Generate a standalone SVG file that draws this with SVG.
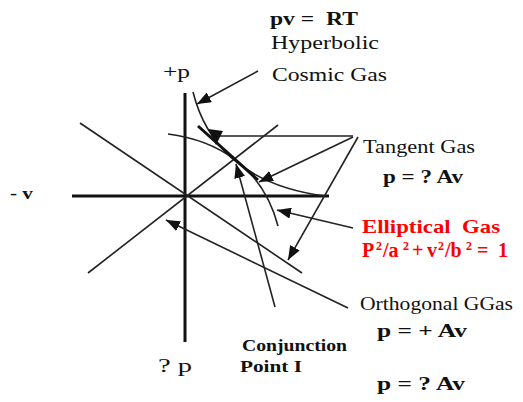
<svg xmlns="http://www.w3.org/2000/svg" width="523" height="402" viewBox="0 0 523 402">
<defs>
<style>
text{font-family:"Liberation Serif","Times New Roman",serif;fill:#111;white-space:pre}
.b{font-weight:bold}
.red{fill:#ff0000;font-weight:bold}
.sup{font-size:12px}
.ax{stroke:#111;stroke-width:3;fill:none}
.ln{stroke:#222;stroke-width:1.6;fill:none}
.ar{stroke:#222;stroke-width:1.6;fill:none;marker-end:url(#ah)}
</style>
<marker id="ah" markerUnits="userSpaceOnUse" markerWidth="14" markerHeight="11" refX="14" refY="5.5" orient="auto">
<path d="M0,0 L14,5.5 L0,11 z" fill="#111"/>
</marker>
</defs>
<rect width="523" height="402" fill="#fff"/>
<g id="connectors">
<line class="ax" x1="185" y1="93" x2="185" y2="342"/>
<line class="ax" x1="72" y1="196" x2="329" y2="196"/>
<line class="ln" x1="80" y1="123" x2="302" y2="273"/>
<line class="ln" x1="88" y1="273" x2="278" y2="125"/>
<path class="ln" d="M193,92 C205,140 240,185 325,196"/>
<path class="ln" d="M168,134 C215,140 262,165 278,226"/>
<line class="ax" x1="198" y1="126" x2="258" y2="180"/>
<line class="ln" x1="353" y1="136" x2="220" y2="136"/>
<polygon points="208,129 223,131 216,145" fill="#111"/>
<line class="ar" x1="258" y1="71" x2="197" y2="104"/>
<line class="ar" x1="353" y1="137" x2="259" y2="182"/>
<line class="ar" x1="358" y1="137" x2="288" y2="260"/>
<line class="ar" x1="353" y1="228" x2="277" y2="210"/>
<line class="ar" x1="275" y1="307" x2="236" y2="164"/>
<line class="ar" x1="348" y1="308" x2="166" y2="220"/>
</g>
<g id="cosmic-gas">
<text class="b" x="270" y="25" font-size="19" textLength="88" lengthAdjust="spacingAndGlyphs">pv =  RT</text>
<text x="271" y="49" font-size="19" textLength="108" lengthAdjust="spacingAndGlyphs">Hyperbolic</text>
<text x="272" y="81" font-size="19" textLength="115" lengthAdjust="spacingAndGlyphs">Cosmic Gas</text>
</g>
<g id="plus-p"><text x="163" y="78" font-size="19" textLength="27" lengthAdjust="spacingAndGlyphs">+p</text></g>
<g id="minus-v"><text class="b" x="10" y="199" font-size="17" textLength="23" lengthAdjust="spacingAndGlyphs">- v</text></g>
<g id="minus-p"><text x="158" y="372" font-size="19" textLength="34" lengthAdjust="spacingAndGlyphs">? p</text></g>
<g id="tangent-gas">
<text x="363" y="153" font-size="18" textLength="112" lengthAdjust="spacingAndGlyphs">Tangent Gas</text>
<text class="b" x="383" y="183" font-size="18" textLength="80" lengthAdjust="spacingAndGlyphs">p = ? Av</text>
</g>
<g id="elliptical-gas">
<text class="red" x="362" y="233" font-size="18" textLength="138" lengthAdjust="spacingAndGlyphs">Elliptical  Gas</text>
<text class="red" font-size="20"><tspan x="362" y="257">P</tspan><tspan class="sup" x="376" y="250">2</tspan><tspan x="383" y="257">/a</tspan><tspan class="sup" x="403" y="250">2</tspan><tspan x="412" y="257">+</tspan><tspan x="427" y="257">v</tspan><tspan class="sup" x="438" y="250">2</tspan><tspan x="445" y="257">/b</tspan><tspan class="sup" x="466" y="250">2</tspan><tspan x="477" y="257">=</tspan><tspan x="498" y="257">1</tspan></text>
</g>
<g id="orthogonal-gas">
<text x="360" y="310" font-size="18" textLength="153" lengthAdjust="spacingAndGlyphs">Orthogonal GGas</text>
<text class="b" x="377" y="337" font-size="18" textLength="90" lengthAdjust="spacingAndGlyphs">p = + Av</text>
<text class="b" x="377" y="390" font-size="18" textLength="88" lengthAdjust="spacingAndGlyphs">p = ? Av</text>
</g>
<g id="conjunction-point">
<text class="b" x="242" y="351" font-size="17" textLength="105" lengthAdjust="spacingAndGlyphs">Conjunction</text>
<text class="b" x="240" y="372" font-size="17" textLength="62" lengthAdjust="spacingAndGlyphs">Point I</text>
</g>
</svg>
